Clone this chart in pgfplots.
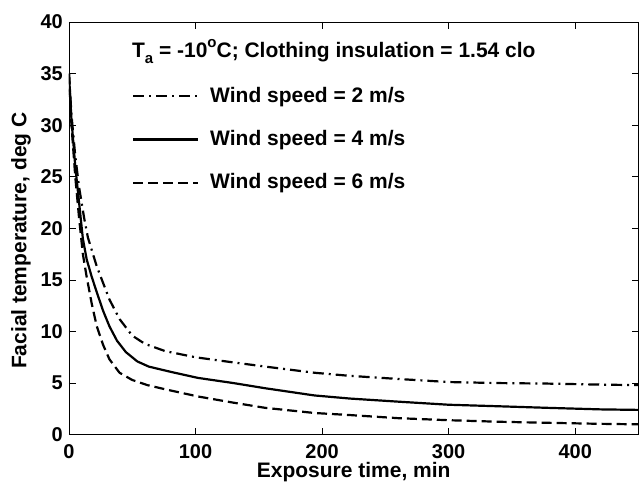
\documentclass[border=0pt]{standalone}
\usepackage{fontspec}
\setmainfont{Liberation Sans}
\usepackage{pgfplots}
\pgfplotsset{compat=1.18}

\pgfplotstableread{
t     T
0     35
2     31
5     27
8     24
12    21
15    19.1
22    16.3
32    13.1
40    11.2
50    9.6
60    8.8
76    8.1
100   7.5
130   7.0
155   6.6
194   6.0
222   5.7
260   5.4
300   5.1
340   5.0
378   4.95
420   4.85
450   4.8
}\windtwo

\pgfplotstableread{
t     T
0     35
2     30.5
5     26
8     22.5
11    19
14    17
18    15.3
22    13.8
27    12
32    10.5
38    9.1
45    8
54    7.1
63    6.6
80    6.1
102   5.5
130   5.0
155   4.5
194   3.8
222   3.5
260   3.2
300   2.9
340   2.75
378   2.6
420   2.45
450   2.4
}\windfour

\pgfplotstableread{
t     T
0     35
2     30
5     25
8     21
11    17.5
14    15.3
18    12.7
22    10.5
27    8.7
32    7.3
40    6.0
50    5.3
62    4.8
76    4.4
102   3.7
130   3.1
155   2.6
194   2.1
222   1.9
260   1.6
300   1.4
340   1.25
378   1.15
420   1.05
450   1.0
}\windsix

\begin{document}
\begin{tikzpicture}
\fontsize{21bp}{25bp}\selectfont\bfseries
\begin{axis}[
  name=ax,
  scale only axis,
  width=570bp, height=413bp,
  xmin=0, xmax=450, ymin=0, ymax=40,
  xtick={0,100,200,300,400},
  ytick={0,5,10,15,20,25,30,35,40},
  tick align=inside,
  major tick length=7bp,
  axis line style={line width=0.8bp},
  tick style={line width=0.8bp, black},
  font=\fontsize{21bp}{25bp}\selectfont\bfseries,
  /pgf/number format/assume math mode=true,
  tick label style={font=\fontsize{20bp}{24bp}\selectfont\bfseries},
  x tick label style={anchor=base, inner sep=0pt, yshift=-24bp},
  y tick label style={anchor=east, inner sep=0pt, xshift=-6bp},
  xlabel={Exposure time, min},
  ylabel={Facial temperature, deg C},
  x label style={at={(axis description cs:0.5,0)}, anchor=base, yshift=-43bp},
  y label style={at={(axis description cs:-0.084,0.47)}, anchor=center},
  legend cell align=left,
  legend style={at={(rel axis cs:0.1105,0.843)}, anchor=north west,
    draw=none, fill=none, inner sep=0pt, row sep=25bp,
    font=\fontsize{21bp}{25bp}\selectfont\bfseries,
    nodes={inner sep=0pt},
    /tikz/every odd column/.append style={column sep=11bp}},
  legend image code/.code={\draw[#1] (0bp,0bp) -- (65bp,0bp);},
]
\addplot[black, line width=2.2bp, dash pattern=on 11bp off 5bp on 2bp off 5bp] table[x=t, y=T] {\windtwo};
\addlegendentry{Wind speed = 2 m/s}
\addplot[black, line width=2.2bp] table[x=t, y=T] {\windfour};
\addlegendentry{Wind speed = 4 m/s}
\addplot[black, line width=2.2bp, dash pattern=on 10bp off 5bp] table[x=t, y=T] {\windsix};
\addlegendentry{Wind speed = 6 m/s}
\node[anchor=base west, inner sep=0pt] at (rel axis cs:0.1105,0.915)
  {T\raisebox{-0.6ex}{\fontsize{15bp}{15bp}\selectfont a} = -10\raisebox{0.85ex}{\fontsize{15bp}{15bp}\selectfont o}C; Clothing insulation = 1.54 clo};
\end{axis}
\pgfresetboundingbox
\path ([xshift=-69bp,yshift=-53bp]ax.south west) rectangle ([xshift=0.5bp,yshift=22bp]ax.north east);
\end{tikzpicture}
\end{document}
